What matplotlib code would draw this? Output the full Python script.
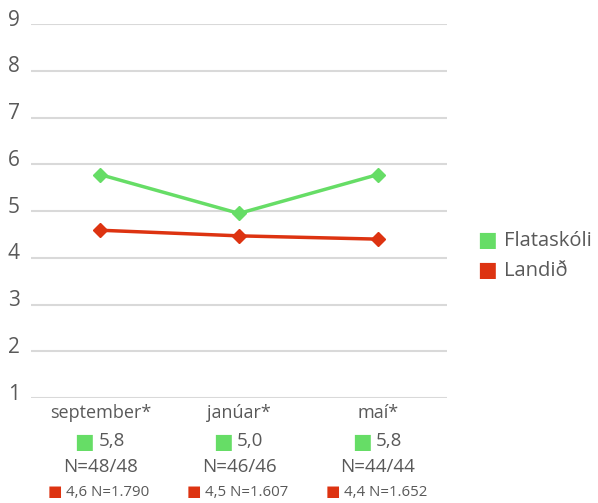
import matplotlib
matplotlib.use('Agg')
import matplotlib.pyplot as plt
from matplotlib.transforms import offset_copy, blended_transform_factory

plt.rcParams['font.family'] = ['Open Sans', 'DejaVu Sans']

categories = ['september*', 'janúar*', 'maí*']
school_values = [5.78, 4.95, 5.78]
country_values = [4.59, 4.47, 4.40]
school_labels = ['5,8', '5,0', '5,8']
school_n = ['N=48/48', 'N=46/46', 'N=44/44']
country_labels = ['4,6 N=1.790', '4,5 N=1.607', '4,4 N=1.652']
series_names = ['Flataskóli', 'Landið']
y_ticks = [1, 2, 3, 4, 5, 6, 7, 8, 9]

green = '#66DD66'
red = '#DD3311'
text_col = '#595959'


def main():
    fig = plt.figure(figsize=(5.98, 5.03), dpi=100)
    ax = fig.add_axes([0.0518, 0.2087, 0.6957, 0.7433])

    x = list(range(len(categories)))
    ax.plot(x, school_values, color=green, lw=2.5, marker='D', ms=7,
            label=series_names[0], zorder=3)
    ax.plot(x, country_values, color=red, lw=2.5, marker='D', ms=7,
            label=series_names[1], zorder=3)

    ax.set_xlim(-0.5, len(categories) - 0.5)
    ax.set_ylim(y_ticks[0], y_ticks[-1])
    ax.set_yticks(y_ticks)
    ax.set_yticklabels([])
    ax.grid(axis='y', color='#D9D9D9', lw=1.5)
    ax.set_axisbelow(True)
    for s in ax.spines.values():
        s.set_visible(False)
    ax.tick_params(axis='y', length=0)
    ax.set_xticks([])

    # y labels sit a little above their grid line
    ytrans = offset_copy(ax.get_yaxis_transform(), fig=fig, units='dots',
                         x=-11, y=4)
    for v in y_ticks:
        ax.text(0, v, str(v), transform=ytrans, ha='right', va='center',
                fontsize=15, color=text_col)

    # category labels under the axis, built line by line
    trans = blended_transform_factory(ax.transData, fig.transFigure)
    for i, cat in enumerate(categories):
        ax.text(i, 1 - 413 / 503, cat, transform=trans, ha='center',
                va='center', fontsize=13, color=text_col)
        t_sq = offset_copy(trans, fig=fig, units='dots', x=-6)
        ax.text(i, 1 - 442 / 503, '■', transform=t_sq, ha='right',
                va='center', fontsize=15, color=green,
                family='DejaVu Sans')
        t_val = offset_copy(trans, fig=fig, units='dots', x=-2)
        ax.text(i, 1 - 441 / 503, school_labels[i], transform=t_val,
                ha='left', va='center', fontsize=13.5, color=text_col)
        ax.text(i, 1 - 467 / 503, school_n[i], transform=trans, ha='center',
                va='center', fontsize=13.5, color=text_col)
        t_sq2 = offset_copy(trans, fig=fig, units='dots', x=-38)
        ax.text(i, 1 - 492 / 503, '■', transform=t_sq2, ha='right',
                va='center', fontsize=11, color=red, family='DejaVu Sans')
        t_val2 = offset_copy(trans, fig=fig, units='dots', x=-34)
        ax.text(i, 1 - 492 / 503, country_labels[i], transform=t_val2,
                ha='left', va='center', fontsize=10.8, color=text_col)

    # legend drawn by hand to the right of the plot
    for k, (name, c) in enumerate(zip(series_names, [green, red])):
        yy = 1 - (241 + 30 * k) / 503
        fig.text(497 / 598, yy + 1 / 503, '■', ha='right', va='center',
                 fontsize=15, color=c, family='DejaVu Sans')
        fig.text(504 / 598, yy, name, ha='left', va='center', fontsize=14.5,
                 color=text_col)

    fig.savefig('out.png', dpi=100)


if __name__ == '__main__':
    main()
